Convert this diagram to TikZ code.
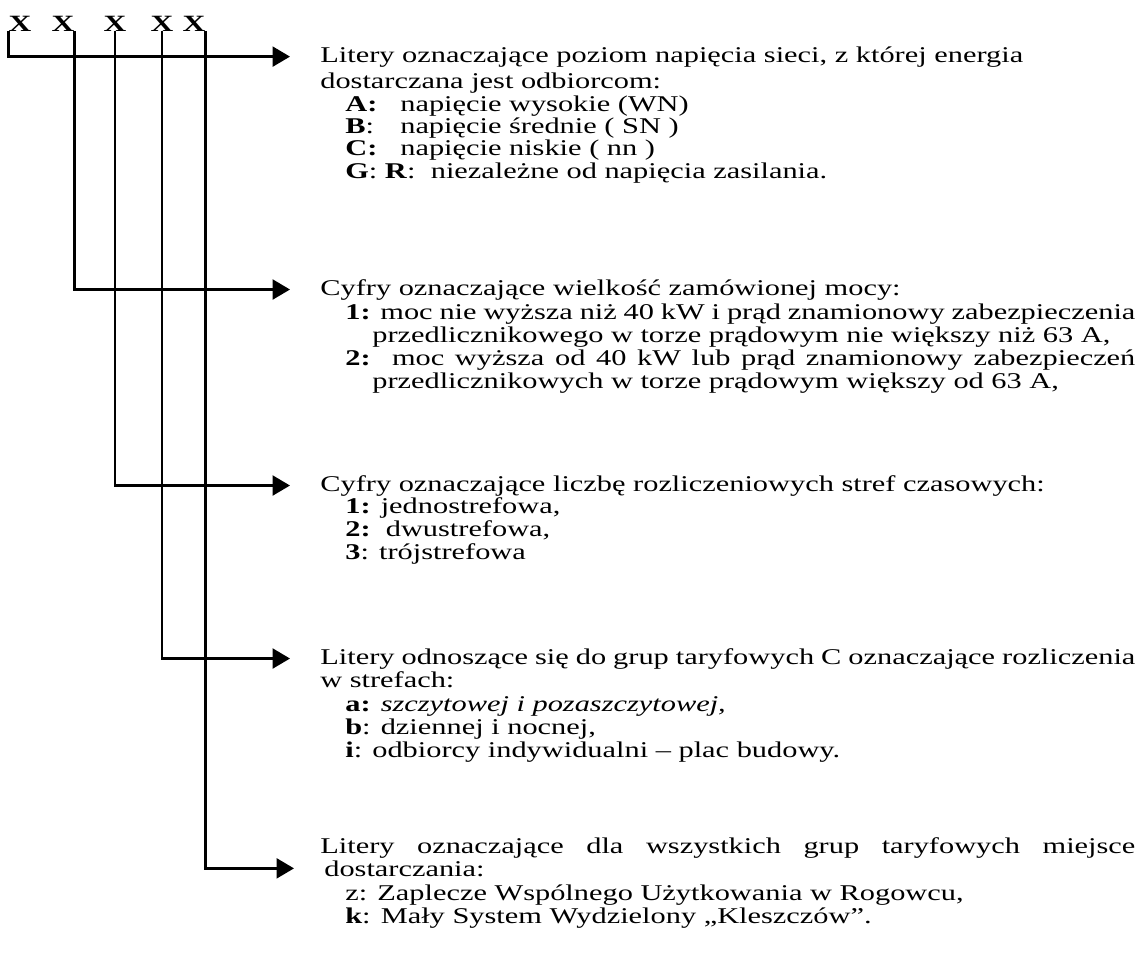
\documentclass[tikz,border=0pt]{standalone}
\usepackage{fontspec}
\setmainfont{Liberation Serif}[FakeStretch=1.35]
\usetikzlibrary{arrows.meta}

\begin{document}
\begin{tikzpicture}[x=0.6pt,y=-0.6pt,
  txt/.style={anchor=base west,inner sep=0pt,font=\fontsize{13.5}{15}\selectfont},
  xmark/.style={anchor=base,inner sep=0pt,font=\fontsize{14}{16}\selectfont\bfseries},
  arr/.style={-{Triangle[length=10.5pt,width=12pt]},line width=1.5pt,shorten >=18pt}]
\useasboundingbox[fill=white] (0,0) rectangle (1143,959);
\node (x1) at (20,31) [xmark] {X};
\node (x2) at (63,31) [xmark] {X};
\node (x3) at (115,31) [xmark] {X};
\node (x4) at (162,31) [xmark] {X};
\node (x5) at (194,31) [xmark] {X};
\node (h1) at (320,62) [txt] {Litery oznaczające poziom napięcia sieci, z której energia};
\node (h1b) at (320,88) [txt] {dostarczana jest odbiorcom:};
\node (va) at (345,111) [txt] {\makebox[33pt][l]{\textbf{A:}}napięcie wysokie (WN)};
\node (vb) at (345,133) [txt] {\makebox[33pt][l]{\textbf{B}:}napięcie średnie ( SN )};
\node (vc) at (345,155) [txt] {\makebox[33pt][l]{\textbf{C:}}napięcie niskie ( nn )};
\node (vgr) at (345,178) [txt] {\textbf{G}: \textbf{R}:\ \ niezależne od napięcia zasilania.};
\node (h2) at (320,295) [txt] {Cyfry oznaczające wielkość zamówionej mocy:};
\node (p1) at (345,319) [txt] {\makebox[474pt][s]{\textbf{1:} moc nie wyższa niż 40 kW i prąd znamionowy zabezpieczenia}};
\node (p1b) at (372,342) [txt] {przedlicznikowego w torze prądowym nie większy niż 63 A,};
\node (p2) at (345,365) [txt] {\makebox[474pt][s]{\textbf{2:}\ \ moc wyższa od 40 kW lub prąd znamionowy zabezpieczeń}};
\node (p2b) at (372,388) [txt] {przedlicznikowych w torze prądowym większy od 63 A,};
\node (h3) at (320,491) [txt] {Cyfry oznaczające liczbę rozliczeniowych stref czasowych:};
\node (s1) at (345,513) [txt] {\textbf{1:} jednostrefowa,};
\node (s2) at (345,536) [txt] {\textbf{2:}\ \ dwustrefowa,};
\node (s3) at (345,559) [txt] {\textbf{3}: trójstrefowa};
\node (h4) at (320,664) [txt] {\makebox[489pt][s]{Litery odnoszące się do grup taryfowych C oznaczające rozliczenia}};
\node (h4b) at (320,687) [txt] {w strefach:};
\node (ra) at (345,711) [txt] {\textbf{a:} \textit{szczytowej i pozaszczytowej,}};
\node (rb) at (345,734) [txt] {\textbf{b}: dziennej i nocnej,};
\node (ri) at (345,757) [txt] {\textbf{i}: odbiorcy indywidualni -- plac budowy.};
\node (h5) at (320,853) [txt] {\makebox[489pt][s]{Litery oznaczające dla wszystkich grup taryfowych miejsce}};
\node (h5b) at (324,876) [txt] {dostarczania:};
\node (lz) at (345,900) [txt] {z: Zaplecze Wspólnego Użytkowania w Rogowcu,};
\node (lk) at (345,923) [txt] {\textbf{k}: Mały System Wydzielony „Kleszczów”.};
\draw[arr] (x1.south west) |- (h1.west);
\draw[arr] (x2.south east) |- (h2.west);
\draw[arr] (x3.south) |- (h3.west);
\draw[arr] (x4.south) |- (h4.west);
\draw[arr] (x5.south east) |- (h5b.west);
\end{tikzpicture}
\end{document}
